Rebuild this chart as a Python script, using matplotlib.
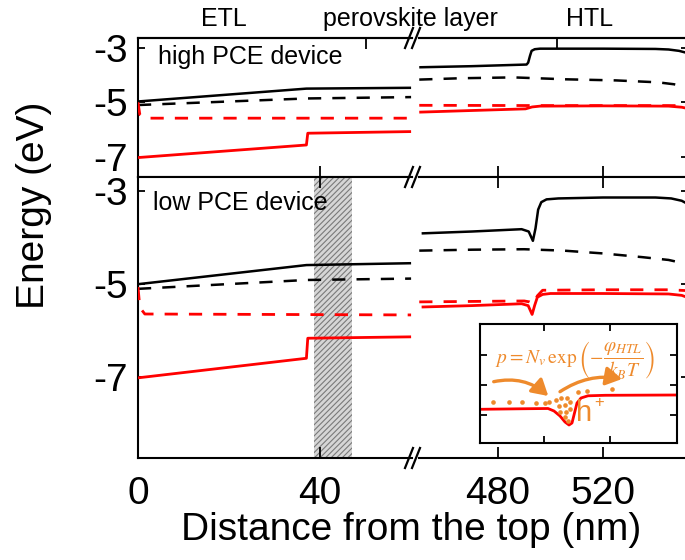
import matplotlib
matplotlib.use('Agg')
import matplotlib.pyplot as plt
from matplotlib.patches import FancyArrowPatch, ArrowStyle
from matplotlib.lines import Line2D

plt.rcParams['font.family'] = ['Liberation Sans', 'DejaVu Sans']
plt.rcParams['axes.unicode_minus'] = False
plt.rcParams['lines.scale_dashes'] = False
plt.rcParams['hatch.linewidth'] = 0.8
plt.rcParams['hatch.color'] = '#7a7a7a'
plt.rcParams['mathtext.fontset'] = 'stix'

# ---------------- data ----------------
# high PCE device (top panel), ETL side (nm)
hi_L_cb_x = [0, 37, 60]
hi_L_cb_y = [-4.97, -4.50, -4.47]
hi_L_fn_x = [0, 37, 60]
hi_L_fn_y = [-5.10, -4.86, -4.81]
hi_L_fp_x = [0, 0.4, 1.5, 60]
hi_L_fp_y = [-5.00, -5.45, -5.58, -5.58]
hi_L_vb_x = [0, 37, 37.3, 60]
hi_L_vb_y = [-7.02, -6.56, -6.13, -6.07]
# high PCE device, HTL side
hi_R_cb_x = [450, 470, 490.9, 491.5, 492.2, 492.8, 494, 496, 520, 540, 545, 549, 553]
hi_R_cb_y = [-3.72, -3.68, -3.62, -3.55, -3.30, -3.12, -3.06, -3.04, -3.04, -3.05, -3.07, -3.12, -3.22]
hi_R_fn_x = [450, 466, 486, 506, 525, 541, 547, 553]
hi_R_fn_y = [-4.17, -4.12, -4.09, -4.16, -4.20, -4.27, -4.34, -4.46]
hi_R_fp_x = [450, 500, 548, 553]
hi_R_fp_y = [-5.11, -5.12, -5.12, -5.16]
hi_R_vb_x = [450, 470, 490.5, 493, 496, 520, 545, 550, 553]
hi_R_vb_y = [-5.36, -5.30, -5.24, -5.17, -5.14, -5.13, -5.14, -5.18, -5.24]

# low PCE device (bottom panel), ETL side
lo_L_cb_x = [0, 37, 60]
lo_L_cb_y = [-5.00, -4.59, -4.55]
lo_L_fn_x = [0, 37, 60]
lo_L_fn_y = [-5.10, -4.91, -4.88]
lo_L_fp_x = [0, 0.4, 1.5, 60]
lo_L_fp_y = [-5.06, -5.50, -5.64, -5.66]
lo_L_vb_x = [0, 37, 37.3, 60]
lo_L_vb_y = [-7.01, -6.59, -6.16, -6.13]
# low PCE device, HTL side
lo_R_cb_x = [450.9, 470, 489, 491.7, 493.3, 494.3, 495.3, 496.5, 498.5, 503, 520, 540, 546, 550, 553]
lo_R_cb_y = [-3.91, -3.87, -3.82, -3.87, -4.07, -3.80, -3.40, -3.24, -3.18, -3.16, -3.14, -3.14, -3.16, -3.21, -3.30]
lo_R_fn_x = [450, 470, 490, 505, 520, 535, 545, 553]
lo_R_fn_y = [-4.28, -4.26, -4.25, -4.28, -4.34, -4.42, -4.48, -4.58]
lo_R_fp_x = [450, 470, 490, 492, 493.5, 495, 497, 520, 545, 553]
lo_R_fp_y = [-5.38, -5.37, -5.36, -5.38, -5.42, -5.25, -5.13, -5.12, -5.12, -5.14]
lo_R_vb_x = [450.9, 470, 489, 491.5, 493, 494, 495, 497, 500, 520, 545, 550, 553]
lo_R_vb_y = [-5.49, -5.46, -5.42, -5.46, -5.65, -5.45, -5.28, -5.22, -5.20, -5.20, -5.21, -5.24, -5.30]

shade_x = [38.7, 47.0]

left_xticks = [0, 40]
right_xticks = [480, 520]
yticks = [-3, -5, -7]
top_ticks_left = [50]
top_ticks_right = [502.5]

# inset (arbitrary units)
ins_vb_x = [0, 40, 68, 74, 80, 85, 89, 92, 94, 97, 101, 108, 125, 197]
ins_vb_y = [33.7, 34.2, 34.5, 32, 27, 21, 18, 20, 28, 40, 45, 47.2, 47.7, 48]
ins_dot_x = [12.7, 29.3, 41.7, 55.7, 65, 69.3, 76, 80.7, 86.7, 98.3, 106.7, 131.7,
             79.3, 85, 90, 80, 86, 90, 85, 88.3]
ins_dot_y = [40.7, 40.7, 40.7, 39.7, 40.3, 40.7, 43, 44.7, 45.3, 50.7, 52.3, 54,
             37.3, 38, 40.7, 30.7, 31.3, 34, 26.3, 22]

RED = '#ff0000'
ORANGE = '#ee8a2c'
DASH = (0, (9.5, 8.0))

fig = plt.figure(figsize=(6.85, 5.6), dpi=100)

def fx(px):
    return px / 685.0

def fy(py):
    return 1 - py / 560.0

xL0, xL1 = 138, 412
xR0, xR1 = 419, 688
rows = {'top': (38, 177, (-7.73, -2.65)), 'bot': (177, 458, (-8.73, -2.70))}

axes = {}
for key, (y0, y1, ylim) in rows.items():
    aL = fig.add_axes([fx(xL0), fy(y1), fx(xL1) - fx(xL0), fy(y0) - fy(y1)])
    aR = fig.add_axes([fx(xR0), fy(y1), fx(xR1) - fx(xR0), fy(y0) - fy(y1)])
    aL.set_xlim(0, 60.2)
    aR.set_xlim(449.9, 552.4)
    for a in (aL, aR):
        a.set_ylim(*ylim)
        a.set_yticks(yticks)
        for s in a.spines.values():
            s.set_linewidth(1.5)
    aL.spines['right'].set_visible(False)
    aR.spines['left'].set_visible(False)
    aL.set_xticks(left_xticks)
    aR.set_xticks(right_xticks)
    aL.tick_params(axis='y', direction='in', length=5, width=1.3, left=True, right=False,
                   labelsize=28, pad=7)
    aR.tick_params(axis='y', direction='in', length=5, width=1.3, left=False, right=True,
                   labelleft=False, labelright=False)
    for a in (aL, aR):
        a.tick_params(axis='x', direction='in', length=8, width=1.3, labelsize=28, pad=13)
    axes[key] = (aL, aR)

# top row: ticks at bottom only (no labels), plus separate top ticks
tL, tR = axes['top']
for a in (tL, tR):
    a.tick_params(axis='x', labelbottom=False, top=False)
secL = tL.secondary_xaxis('top')
secL.set_xticks(top_ticks_left)
secL.set_xticklabels([])
secL.tick_params(direction='in', length=8, width=1.3)
secL.spines['top'].set_linewidth(1.5)
secR = tR.secondary_xaxis('top')
secR.set_xticks(top_ticks_right)
secR.set_xticklabels([])
secR.tick_params(direction='in', length=8, width=1.3)
secR.spines['top'].set_linewidth(1.5)

bL, bR = axes['bot']
for a in (bL, bR):
    a.tick_params(axis='x', top=True)

# hatched band
bL.axvspan(shade_x[0], shade_x[1], facecolor='#d6d6d6', edgecolor='#7a7a7a',
           hatch='//////', lw=0, zorder=0)

def draw(a, xs, ys, color, dashed=False):
    kw = dict(color=color, lw=2.0 if color == RED else 1.8, zorder=3, solid_capstyle='butt')
    if dashed:
        kw['linestyle'] = DASH
    a.plot(xs, ys, **kw)

draw(tL, hi_L_cb_x, hi_L_cb_y, 'black')
draw(tL, hi_L_fn_x, hi_L_fn_y, 'black', True)
draw(tL, hi_L_fp_x, hi_L_fp_y, RED, True)
draw(tL, hi_L_vb_x, hi_L_vb_y, RED)
draw(tR, hi_R_cb_x, hi_R_cb_y, 'black')
draw(tR, hi_R_fn_x, hi_R_fn_y, 'black', True)
draw(tR, hi_R_fp_x, hi_R_fp_y, RED, True)
draw(tR, hi_R_vb_x, hi_R_vb_y, RED)

draw(bL, lo_L_cb_x, lo_L_cb_y, 'black')
draw(bL, lo_L_fn_x, lo_L_fn_y, 'black', True)
draw(bL, lo_L_fp_x, lo_L_fp_y, RED, True)
draw(bL, lo_L_vb_x, lo_L_vb_y, RED)
draw(bR, lo_R_cb_x, lo_R_cb_y, 'black')
draw(bR, lo_R_fn_x, lo_R_fn_y, 'black', True)
draw(bR, lo_R_fp_x, lo_R_fp_y, RED, True)
draw(bR, lo_R_vb_x, lo_R_vb_y, RED)

# panel labels
fig.text(fx(158), fy(57), 'high PCE device', fontsize=18, va='center', ha='left')
fig.text(fx(153), fy(203), 'low PCE device', fontsize=18, va='center', ha='left')

# region labels
fig.text(fx(224), fy(19), 'ETL', fontsize=18, ha='center', va='center')
fig.text(fx(410), fy(19), 'perovskite layer', fontsize=18, ha='center', va='center')
fig.text(fx(590), fy(19), 'HTL', fontsize=18, ha='center', va='center')

# axis labels
fig.text(fx(411), fy(530), 'Distance from the top (nm)', fontsize=28, ha='center', va='center')
fig.text(fx(34), fy(205), 'Energy (eV)', fontsize=28, ha='center', va='center', rotation=90)

# break marks
for ys in (38, 177, 458):
    for xc in (409, 416):
        fig.add_artist(Line2D([fx(xc - 4), fx(xc + 4)], [fy(ys + 10), fy(ys - 10)],
                              transform=fig.transFigure, color='black', lw=1.6))

# inset
ins = fig.add_axes([fx(480), fy(443), fx(677) - fx(480), fy(324) - fy(443)])
ins.set_xlim(0, 197)
ins.set_ylim(0, 119)
ins.set_xticks([64, 130])
ins.set_yticks([28, 58, 88])
ins.tick_params(direction='in', length=5, width=1.3, top=True, right=True,
                labelbottom=False, labelleft=False)
for s in ins.spines.values():
    s.set_linewidth(1.5)
ins.plot(ins_vb_x, ins_vb_y, color=RED, lw=2.0)
ins.scatter(ins_dot_x, ins_dot_y, s=11, color=ORANGE, zorder=4, linewidths=0)
ins.text(95, 83, r'$p=N_v\,\exp\left(-\dfrac{\varphi_{HTL}}{k_BT}\right)$',
         color=ORANGE, fontsize=14, ha='center', va='center')
ins.text(104, 30, 'h', color=ORANGE, fontsize=21, ha='center', va='center')
ins.text(119, 41, '+', color=ORANGE, fontsize=12, ha='center', va='center')
style = ArrowStyle('-|>', head_length=0.6, head_width=0.35)
ins.add_patch(FancyArrowPatch((13.7, 61.3), (68.3, 47), connectionstyle='arc3,rad=-0.25',
                              arrowstyle=style, mutation_scale=16, color=ORANGE, lw=2.4,
                              shrinkA=0, shrinkB=0))
ins.add_patch(FancyArrowPatch((80, 51.3), (142, 64), connectionstyle='arc3,rad=-0.2',
                              arrowstyle=style, mutation_scale=16, color=ORANGE, lw=2.4,
                              shrinkA=0, shrinkB=0))

fig.savefig('out.png', dpi=100)
